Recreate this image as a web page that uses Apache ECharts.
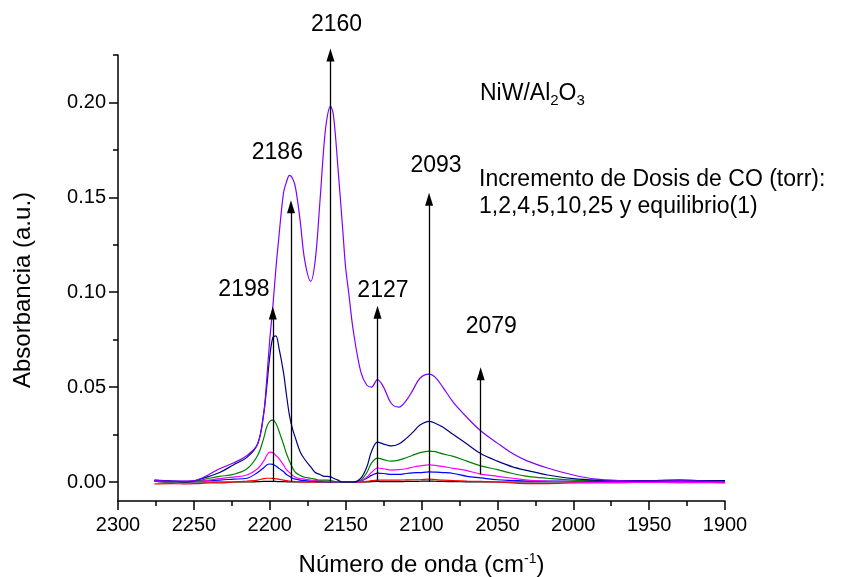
<!DOCTYPE html>
<html>
<head>
<meta charset="utf-8">
<script src="https://cdn.jsdelivr.net/npm/echarts@6/dist/echarts.min.js"></script>
<style>html,body{margin:0;padding:0;background:#fff}#c{width:841px;height:577px}</style>
</head>
<body>
<div id="c"></div>
<script>
// Wavenumber grid (cm-1)
const waves = [2276,2265,2255,2248,2240,2233,2224,2215,2208,2204,2202,2200,2198,2196,2194,2191,2189,2187,2185,2183,2180,2177,2173,2170,2167,2164,2162,2160,2158,2155,2152,2150,2148,2145,2140,2136,2133,2129,2125,2120,2115,2110,2106,2101,2095,2091,2086,2079,2070,2061,2050,2040,2030,2017,2000,1985,1970,1950,1930,1915,1900];

const doseBlack   = [0.0005,0,0,0,0,0,0,0,0.0002,0.0003,0.0003,0.0003,0.0003,0.0003,0.0002,0.0002,0.0001,0,0,0,0,0,0,0,0,0,0,0,0,0,0,0,0,0,0,0,0.0002,0.0003,0.0002,0.0002,0.0002,0.0003,0.0003,0.0004,0.0005,0.0004,0.0003,0.0002,0.0001,0,0,0,0,0,0,0,0,0,0,0,0];
const doseRed     = [-0.001,-0.0008,-0.001,-0.0008,-0.0005,-0.0005,0,0.0005,0.001,0.0018,0.002,0.002,0.0019,0.0017,0.0015,0.001,0.0008,0.0005,0.0003,0.0002,0.0001,0,0,0,0,0,0,0,0,0,0,0,0,0,0,0.0003,0.0007,0.001,0.001,0.001,0.001,0.0011,0.0012,0.0012,0.0015,0.0013,0.001,0.0008,0.0005,0.0003,0,-0.0005,-0.0008,-0.0008,-0.0005,-0.0003,-0.0003,-0.0002,-0.0003,-0.0002,-0.0003];
const doseBlue    = [0.0008,0.0005,0.0003,0.0005,0.0008,0.001,0.0015,0.002,0.005,0.0075,0.009,0.0095,0.0093,0.0085,0.0072,0.0055,0.004,0.003,0.002,0.0015,0.001,0.0008,0.0005,0.0003,0.0002,0.0002,0.0001,0,0,0,0,0,0,0,0.0005,0.002,0.0035,0.0047,0.0045,0.004,0.004,0.0045,0.0048,0.005,0.0053,0.0052,0.005,0.0045,0.003,0.0022,0.0012,0.0008,0.0005,0.0005,0.0004,0.0004,0.0005,0.0005,0.0006,0.0005,0.0005];
const doseMagenta = [0.0005,0,0,0.0003,0.001,0.0018,0.0026,0.0037,0.007,0.011,0.014,0.0158,0.0155,0.014,0.0125,0.009,0.0065,0.005,0.0035,0.0025,0.0018,0.0015,0.001,0.0008,0.0006,0.0005,0.0004,0.0003,0.0002,0.0001,0,0,0,0,0.0005,0.0026,0.005,0.0074,0.007,0.0063,0.0065,0.007,0.0078,0.0085,0.009,0.0088,0.0082,0.0072,0.006,0.0042,0.003,0.002,0.001,0.0005,0,-0.0003,-0.0003,-0.0002,-0.0003,-0.0003,-0.0004];
const doseGreen   = [0.0005,0,0,0.0005,0.002,0.003,0.004,0.007,0.014,0.023,0.029,0.032,0.0326,0.031,0.027,0.02,0.015,0.011,0.0075,0.005,0.0035,0.0025,0.002,0.0015,0.001,0.001,0.001,0.0008,0.0005,0,0,0,0,0,0.001,0.005,0.01,0.0126,0.0118,0.011,0.0115,0.0128,0.014,0.0155,0.0163,0.016,0.0148,0.0135,0.011,0.0085,0.0065,0.0045,0.003,0.002,0.001,0.0008,0.0008,0.0008,0.001,0.0008,0.0008];
const doseNavy    = [0.001,0.0005,0,0.001,0.003,0.005,0.009,0.013,0.02,0.036,0.05,0.066,0.076,0.077,0.071,0.058,0.046,0.035,0.028,0.023,0.016,0.012,0.008,0.005,0.004,0.003,0.003,0.0027,0.002,0.001,0,0,0,0,0.002,0.008,0.016,0.021,0.02,0.019,0.02,0.023,0.026,0.03,0.032,0.031,0.029,0.025,0.02,0.015,0.011,0.008,0.006,0.0037,0.0018,0.001,0.0008,0.0008,0.001,0.0008,0.0008];
const doseViolet  = [0.001,0.0005,0.0005,0.001,0.004,0.007,0.01,0.014,0.02,0.036,0.054,0.075,0.092,0.112,0.129,0.152,0.158,0.1616,0.16,0.155,0.138,0.117,0.1058,0.117,0.147,0.18,0.193,0.198,0.193,0.165,0.134,0.113,0.1,0.08,0.058,0.051,0.05,0.054,0.05,0.0415,0.0395,0.043,0.048,0.0547,0.0568,0.0553,0.05,0.042,0.034,0.027,0.0205,0.015,0.011,0.0074,0.0037,0.0015,0.0008,0.0005,0.0008,0.0005,0.0002];

// Arrows (peak assignments)
const arrowPos    = [2198, 2186, 2160, 2129, 2095, 2061];
const arrowBottom = [0, 0, 0, 0, 0, 0.004];
const arrowTop    = [0.089, 0.145, 0.225, 0.0895, 0.149, 0.057];
const peakLabels  = ['2198', '2186', '2160', '2127', '2093', '2079'];
const labelW      = [2217, 2195, 2156, 2125.4, 2090.4, 2054];
const labelA      = [0.1016, 0.1737, 0.241, 0.101, 0.1668, 0.0816];

const yMajor = [0, 0.05, 0.10, 0.15, 0.20];
const yMinor = [0.025, 0.075, 0.125, 0.175, 0.225];

const seriesDefs = [
  ['dose0', doseBlack, '#000000'],
  ['dose1', doseRed, '#FF0000'],
  ['dose2', doseBlue, '#0000FF'],
  ['dose3', doseMagenta, '#FF00FF'],
  ['dose4', doseGreen, '#008000'],
  ['dose5', doseNavy, '#000080'],
  ['dose6', doseViolet, '#8000FF']
];

const FONT = '"Liberation Sans", Arial, sans-serif';
const chart = echarts.init(document.getElementById('c'), null, {renderer: 'canvas'});

const series = seriesDefs.map(([name, vals, color]) => ({
  name, type: 'line', data: waves.map((w, i) => [w, vals[i]]),
  showSymbol: false, smooth: 0.35, lineStyle: {color, width: 1.2}, itemStyle: {color},
  animation: false, z: 3
}));

series.push({
  name: 'arrows', type: 'line', data: [], animation: false, z: 4,
  markLine: {
    silent: true, animation: false,
    symbol: ['none', 'triangle'], symbolSize: [8, 13],
    lineStyle: {color: '#000', width: 1.3, type: 'solid'},
    label: {show: false},
    data: arrowPos.map((w, i) => [{coord: [w, arrowBottom[i]]}, {coord: [w, arrowTop[i]]}])
  }
});

series.push({
  name: 'peaks', type: 'scatter', data: labelW.map((w, i) => [w, labelA[i], peakLabels[i]]),
  symbolSize: 0, clip: false, animation: false, silent: true,
  itemStyle: {opacity: 1, color: '#000'},
  label: {show: true, position: [0, 0], align: 'center', verticalAlign: 'middle', opacity: 1,
    formatter: p => p.data[2], color: '#000', textBorderWidth: 0, fontSize: 23, fontFamily: FONT}
});

chart.setOption({
  animation: false,
  grid: {left: 118, right: 116, top: 55, bottom: 76, containLabel: false, outerBoundsMode: 'none'},
  xAxis: {
    type: 'value', min: 1900, max: 2300, interval: 50, inverse: true,
    axisLine: {show: true, onZero: false, lineStyle: {color: '#000', width: 1.5}},
    axisTick: {show: true, length: 9, lineStyle: {color: '#000', width: 1.5}},
    minorTick: {show: true, splitNumber: 2, length: 5, lineStyle: {color: '#000', width: 1.5}},
    axisLabel: {color: '#000', fontSize: 20, fontFamily: FONT, margin: 14, formatter: v => String(v)},
    splitLine: {show: false},
    name: 'Número de onda (cm{sup|-1})', nameLocation: 'middle', nameGap: 51,
    nameTextStyle: {color: '#000', fontSize: 24, fontFamily: FONT,
      rich: {sup: {fontSize: 14, verticalAlign: 'top', padding: [0, 0, 12, 0], fontFamily: FONT, color: '#000'}}}
  },
  yAxis: [{
    type: 'value', min: -0.01, max: 0.225,
    axisLine: {show: true, onZero: false, lineStyle: {color: '#000', width: 1.5}},
    axisTick: {show: true, length: 9, customValues: yMajor, lineStyle: {color: '#000', width: 1.5}},
    axisLabel: {color: '#000', fontSize: 20, fontFamily: FONT, margin: 12, customValues: yMajor,
      formatter: v => v.toFixed(2)},
    splitLine: {show: false}
  }, {
    type: 'value', min: -0.01, max: 0.225, position: 'left',
    axisLine: {show: false},
    axisTick: {show: true, length: 5, customValues: yMinor, lineStyle: {color: '#000', width: 1.5}},
    axisLabel: {show: false},
    splitLine: {show: false}
  }],
  series,
  graphic: [
    {type: 'text', x: 23, y: 290, rotation: Math.PI / 2, style: {
      text: 'Absorbancia (a.u.)', fill: '#000', fontSize: 24, fontFamily: FONT,
      align: 'center', verticalAlign: 'middle'
    }},
    {type: 'text', left: 480, top: 82, style: {
      text: 'NiW/Al{sub|2}O{sub|3}', fill: '#000', fontSize: 23, fontFamily: FONT,
      rich: {sub: {fontSize: 15, fontFamily: FONT, fill: '#000', padding: [14, 0, 0, 0]}}
    }},
    {type: 'text', left: 479, top: 166, style: {
      text: 'Incremento de Dosis de CO (torr):\n1,2,4,5,10,25 y equilibrio(1)', fill: '#000', fontSize: 23,
      fontFamily: FONT, lineHeight: 27
    }}
  ]
});
</script>
</body>
</html>
